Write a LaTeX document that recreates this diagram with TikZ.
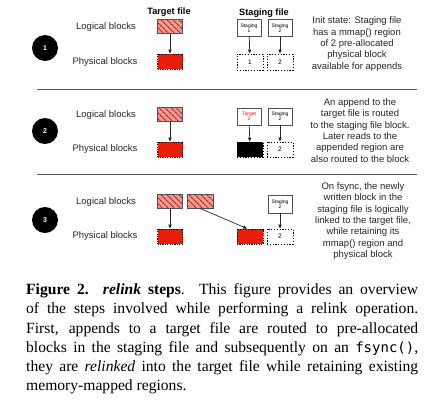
\documentclass[tikz,border=0pt]{standalone}
\usepackage{fontspec}
\setmainfont{Liberation Serif}
\newfontfamily\dfont{Liberation Sans}
\newfontfamily\mfont{DejaVu Sans Mono}
\usetikzlibrary{arrows.meta,patterns.meta,calc}
\definecolor{salmon}{RGB}{244,150,140}
\definecolor{hatch}{RGB}{150,40,35}
\definecolor{bred}{RGB}{232,30,12}
\definecolor{edgegray}{RGB}{80,80,80}
\tikzset{
  lbl/.style={font=\dfont\fontsize{9.5}{11}\selectfont, text=black!85},
  ttl/.style={font=\dfont\bfseries\fontsize{9.2}{11}\selectfont},
  hblk/.style={draw=edgegray, line width=0.7pt, minimum width=25pt, minimum height=14pt, inner sep=0pt,
    preaction={fill=salmon}, pattern={Lines[angle=-45,distance=4pt,line width=0.8pt]}, pattern color=hatch},
  pblk/.style={fill=bred, draw=black, line width=0.9pt, dash pattern=on 1.2pt off 1.2pt,
    minimum width=25pt, minimum height=15pt, inner sep=0pt},
  eblk/.style={draw=black, line width=0.9pt, dash pattern=on 1.2pt off 1.6pt, minimum width=26pt,
    minimum height=16pt, inner sep=0pt, font=\dfont\fontsize{6.5}{7}\selectfont},
  sblk/.style={draw=edgegray, fill=white, line width=0.8pt, minimum width=24pt, minimum height=17pt,
    inner sep=0pt, align=center, font=\dfont\fontsize{5}{5.2}\selectfont},
  stepnum/.style={circle, fill=black, minimum size=26pt, inner sep=0pt, text=white,
    font=\dfont\bfseries\fontsize{7}{8}\selectfont},
  desc/.style={align=center, font=\dfont\fontsize{9.5}{11.3}\selectfont, text=black!85},
  arr/.style={-{Triangle[length=4pt,width=3.2pt]}, line width=0.7pt, draw=black!85},
  sepline/.style={draw=black!65, line width=0.9pt}
}
\begin{document}
\begin{tikzpicture}[x=1pt,y=-1pt]
\useasboundingbox (0,0) rectangle (436,402);
% titles
\node[ttl] (ttarget) at (169,12) {Target file};
\node[ttl] (tstaging) at (264,13) {Staging file};
% ---------- step 1
\node[stepnum] (c1) at (45,48) {1};
\node[lbl] (l1) at (106,27) {Logical blocks};
\node[lbl] (p1) at (105,62) {Physical blocks};
\node[hblk] (t1L) at (170,26.5) {};
\node[pblk] (t1P) at (170,61.5) {};
\node[sblk] (s1a) at (249,28) {Staging\\1};
\node[sblk] (s1b) at (280,28) {Staging\\2};
\node[eblk] (e1a) at (250,62) {1};
\node[eblk] (e1b) at (280,62) {2};
\draw[arr] (t1L) -- (t1P);
\draw[arr] (s1a) -- (e1a);
\draw[arr] (s1b) -- (e1b);
\node[desc] (d1) at (357,44) {Init state: Staging file\\has a mmap() region\\of 2 pre-allocated\\physical block\\available for appends};
\draw[sepline] (37,89) -- (417,89);
% ---------- step 2
\node[stepnum] (c2) at (45,131) {2};
\node[lbl] (l2) at (106,115) {Logical blocks};
\node[lbl] (p2) at (105,149) {Physical blocks};
\node[hblk] (t2L) at (170,114.5) {};
\node[pblk] (t2P) at (170,149.5) {};
\node[sblk, text=red] (s2a) at (249,116.5) {Target\\2};
\node[sblk] (s2b) at (280,116.5) {Staging\\2};
\node[eblk, fill=black, minimum height=15pt] (e2a) at (250,149.5) {};
\node[eblk, minimum height=15pt] (e2b) at (280,149.5) {2};
\draw[arr] (t2L) -- (t2P);
\draw[arr] (s2a) -- (e2a);
\draw[arr] (s2b) -- (e2b);
\node[desc] (d2) at (360,130.5) {An append to the\\target file is routed\\to the staging file block.\\Later reads to the\\appended region are\\also routed to the block};
\draw[sepline] (37,174) -- (417,174);
% ---------- step 3
\node[stepnum] (c3) at (45,220) {3};
\node[lbl] (l3) at (106,202) {Logical blocks};
\node[lbl] (p3) at (105,236) {Physical blocks};
\node[hblk] (t3L) at (170,201) {};
\node[hblk, minimum width=26pt] (t3L2) at (200,201) {};
\node[pblk] (t3P) at (170,236.5) {};
\node[pblk, minimum width=26pt] (t3P2) at (250,236.5) {};
\node[sblk, minimum height=18pt] (s3b) at (280,204) {Staging\\2};
\node[eblk, minimum height=15pt] (e3b) at (280,236.5) {2};
\draw[arr] (t3L) -- (t3P);
\draw[arr] (t3L2.south) -- (t3P2.110);
\draw[arr] (s3b) -- (e3b);
\node[desc] (d3) at (363,221) {On fsync, the newly\\written block in the\\staging file is logically\\linked to the target file,\\while retaining its\\mmap() region and\\physical block};
% ---------- caption
\node[anchor=north west, inner sep=0pt, text width=392pt, align=justify,
  font=\fontsize{15.6}{19.2}\selectfont] (cap) at (26,283.5)
{\textbf{Figure 2.} \textbf{\textit{relink}} \textbf{steps}. This figure provides an overview\linebreak
of the steps involved while performing a relink operation.\linebreak
First, appends to a target file are routed to pre-allocated\linebreak
blocks in the staging file and subsequently on an {\mfont\fontsize{14}{19.2}\selectfont fsync()},\linebreak
they are \textit{relinked} into the target file while retaining existing\linebreak
memory-mapped regions.};
\end{tikzpicture}
\end{document}
